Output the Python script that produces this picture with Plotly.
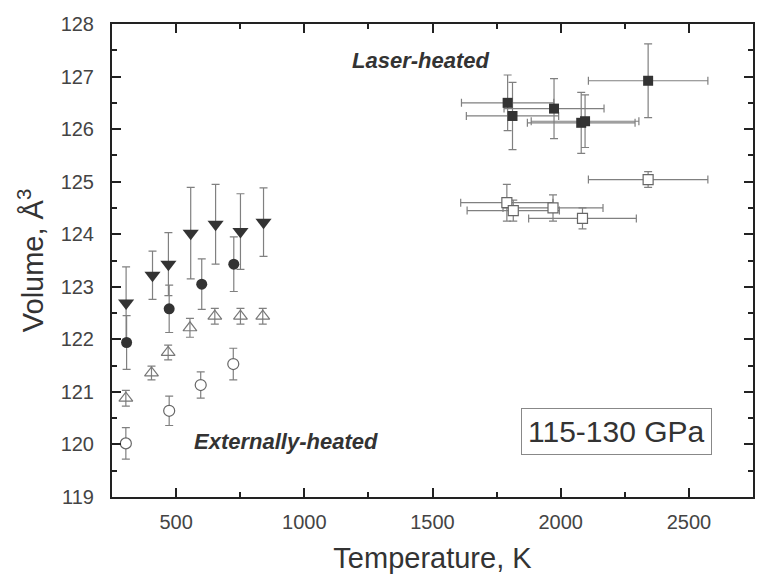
import plotly.graph_objects as go

# ---------------- Externally-heated data ----------------
ext_T_tri_filled = [305, 408, 470, 557, 654, 751, 841]
ext_V_tri_filled = [122.69, 123.22, 123.43, 124.02, 124.19, 124.05, 124.23]
ext_E_tri_filled = [0.69, 0.46, 0.60, 0.87, 0.76, 0.72, 0.65]

ext_T_circ_filled = [307, 473, 600, 725]
ext_V_circ_filled = [121.94, 122.58, 123.05, 123.43]
ext_E_circ_filled = [0.51, 0.45, 0.48, 0.52]

ext_T_tri_open = [304, 404, 469, 554, 651, 751, 838]
ext_V_tri_open = [120.88, 121.36, 121.75, 122.22, 122.44, 122.44, 122.44]
ext_E_tri_open = [0.15, 0.13, 0.14, 0.18, 0.15, 0.15, 0.15]

ext_T_circ_open = [304, 473, 596, 723]
ext_V_circ_open = [120.02, 120.64, 121.13, 121.53]
ext_E_circ_open = [0.30, 0.28, 0.25, 0.30]

# ---------------- Laser-heated data ----------------
las_T_filled = [1793, 1812, 1974, 2080, 2095, 2341]
las_V_filled = [126.50, 126.25, 126.39, 126.12, 126.15, 126.92]
las_Ey_filled = [0.53, 0.64, 0.57, 0.58, 0.50, 0.70]
las_Ex_filled = [180, 180, 195, 210, 210, 233]

las_T_open = [1790, 1815, 1970, 2085, 2341]
las_V_open = [124.60, 124.45, 124.50, 124.30, 125.04]
las_Ey_open = [0.35, 0.20, 0.25, 0.20, 0.15]
las_Ex_open = [180, 180, 195, 210, 233]

ERR_COLOR = "#808080"
MK_COLOR = "#333333"
FONT = "Liberation Sans"

fig = go.Figure()

def ey(arr):
    return dict(type="data", array=arr, visible=True, color=ERR_COLOR, thickness=1.2, width=4)

fig.add_trace(go.Scatter(
    x=ext_T_tri_filled, y=ext_V_tri_filled, mode="markers",
    error_y=ey(ext_E_tri_filled),
    marker=dict(symbol="triangle-down", size=14, color=MK_COLOR, line=dict(width=0))))
fig.add_trace(go.Scatter(
    x=ext_T_circ_filled, y=ext_V_circ_filled, mode="markers",
    error_y=ey(ext_E_circ_filled),
    marker=dict(symbol="circle", size=11, color=MK_COLOR, line=dict(width=0))))
fig.add_trace(go.Scatter(
    x=ext_T_tri_open, y=ext_V_tri_open, mode="markers",
    error_y=ey(ext_E_tri_open),
    marker=dict(symbol="triangle-up-open", size=12, color="#777777", line=dict(width=1.2))))
fig.add_trace(go.Scatter(
    x=ext_T_circ_open, y=ext_V_circ_open, mode="markers",
    error_y=ey(ext_E_circ_open),
    marker=dict(symbol="circle", size=11, color="white", line=dict(width=1.2, color="#666666"))))

fig.add_trace(go.Scatter(
    x=las_T_open, y=las_V_open, mode="markers",
    error_y=ey(las_Ey_open),
    error_x=dict(type="data", array=las_Ex_open, visible=True, color=ERR_COLOR, thickness=1.2, width=4),
    marker=dict(symbol="square", size=10, color="white", line=dict(width=1.2, color="#666666"))))
fig.add_trace(go.Scatter(
    x=las_T_filled, y=las_V_filled, mode="markers",
    error_y=ey(las_Ey_filled),
    error_x=dict(type="data", array=las_Ex_filled, visible=True, color=ERR_COLOR, thickness=1.2, width=4),
    marker=dict(symbol="square", size=10, color=MK_COLOR, line=dict(width=0))))

fig.add_annotation(x=1454, y=127.3, text="<b><i>Laser-heated</i></b>", showarrow=False,
                   font=dict(family=FONT, size=22, color="#333333"))
fig.add_annotation(x=930, y=120.06, text="<b><i>Externally-heated</i></b>", showarrow=False,
                   font=dict(family=FONT, size=22, color="#333333"))
fig.add_annotation(x=2219, y=120.25, text="115-130 GPa", showarrow=False,
                   font=dict(family=FONT, size=30, color="#333333"),
                   bordercolor="#888888", borderwidth=1, borderpad=6, bgcolor="white")

axis_common = dict(
    showline=True, linecolor="#222222", linewidth=2, mirror="ticks",
    ticks="inside", ticklen=9, tickwidth=2, tickcolor="#222222",
    showgrid=False, zeroline=False,
    tickfont=dict(family=FONT, size=20, color="#444444"),
)

fig.update_xaxes(range=[250, 2750], tickmode="linear", tick0=0, dtick=500,
                 minor=dict(ticks="inside", ticklen=5, tickwidth=1.5, tickcolor="#222222", dtick=250, tick0=0),
                 title=dict(text="Temperature, K", font=dict(family=FONT, size=29, color="#333333"), standoff=16),
                 ticklabelstandoff=6,
                 **axis_common)
fig.update_yaxes(range=[119, 128], tickmode="linear", tick0=119, dtick=1,
                 minor=dict(ticks="inside", ticklen=5, tickwidth=1.5, tickcolor="#222222", dtick=0.5, tick0=119),
                 title=dict(text="Volume, Å<sup>3</sup>", font=dict(family=FONT, size=29, color="#333333"), standoff=8),
                 ticklabelstandoff=12,
                 **axis_common)

fig.update_layout(
    width=765, height=583,
    margin=dict(l=112, r=10, t=24, b=86),
    paper_bgcolor="white", plot_bgcolor="white",
    showlegend=False,
)

fig.write_html("out.html")
